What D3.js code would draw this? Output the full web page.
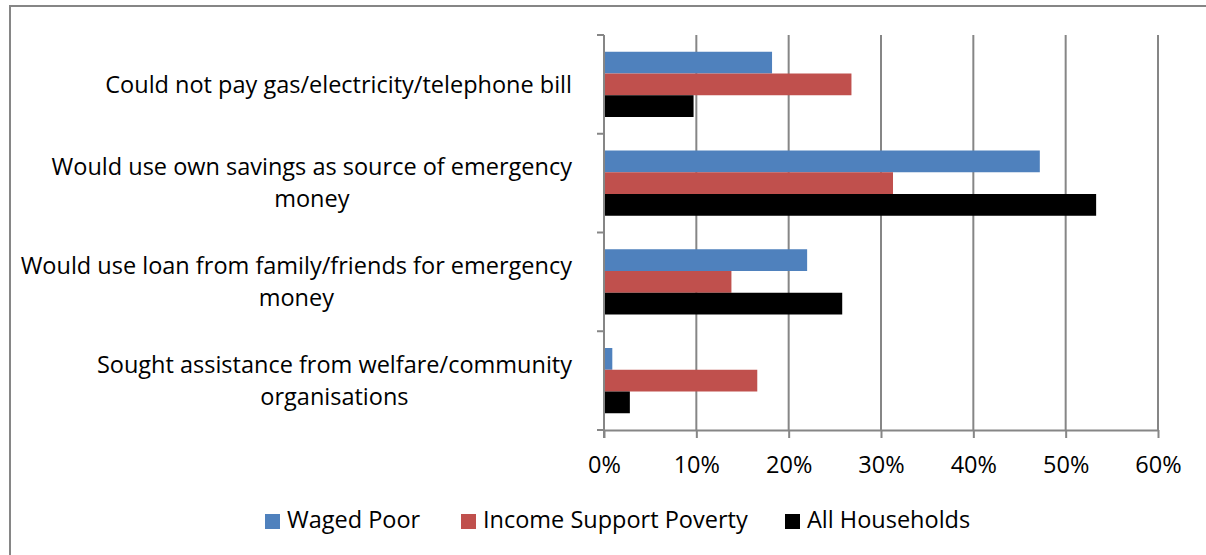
<!DOCTYPE html>
<html>
<head>
<meta charset="utf-8">
<script src="https://d3js.org/d3.v7.min.js"></script>
<style>
body { margin: 0; background: #fff; }
svg text { font-family: "Open Sans", Lato, sans-serif; fill: #000; }
</style>
</head>
<body>
<svg width="1206" height="555"></svg>
<script>
// data
var categories = [
	"Could not pay gas/electricity/telephone bill",
	"Would use own savings as source of emergency money",
	"Would use loan from family/friends for emergency money",
	"Sought assistance from welfare/community organisations"
];
var seriesNames = ["Waged Poor", "Income Support Poverty", "All Households"];
var wagedPoor = [0.182, 0.472, 0.220, 0.009];
var incomeSupport = [0.268, 0.313, 0.138, 0.166];
var allHouseholds = [0.097, 0.533, 0.258, 0.028];
var tickValues = [0, 0.1, 0.2, 0.3, 0.4, 0.5, 0.6];
var colors = ["#4f81bd", "#c0504d", "#000000"];

var series = [wagedPoor, incomeSupport, allHouseholds];
var fontSize = 23.5;

svg = d3.select("svg");
widthSvg = +svg.attr("width");
heightSvg = +svg.attr("height");

// chart border
svg.append("path")
	.attr("d", "M10,556 L10,6 L1206,6")
	.attr("fill", "none")
	.attr("stroke", "#868686")
	.attr("stroke-width", 2);

var plotLeft = 604, plotRight = 1158, plotTop = 35, plotBottom = 430;

x = d3.scaleLinear()
	.domain([0, 0.6])
	.range([plotLeft, plotRight]);

y = d3.scaleBand()
	.domain(categories)
	.range([plotTop, plotBottom]);

inner = d3.scaleBand()
	.domain(d3.range(series.length))
	.range([0, y.bandwidth()])
	.paddingInner(0)
	.paddingOuter(0.77);

// gridlines
gist = svg.append("g").attr("class", "gist");
gist.selectAll("line.grid")
	.data(tickValues.slice(1))
	.enter().append("line")
	.attr("class", "grid")
	.attr("x1", function(d) { return x(d); })
	.attr("x2", function(d) { return x(d); })
	.attr("y1", plotTop)
	.attr("y2", plotBottom)
	.attr("stroke", "#868686")
	.attr("stroke-width", 2);

// bars
categories.forEach(function(cat, i) {
	series.forEach(function(s, j) {
		gist.append("rect")
			.attr("x", x(0))
			.attr("y", y(cat) + inner(j))
			.attr("width", x(s[i]) - x(0))
			.attr("height", inner.bandwidth())
			.attr("fill", colors[j]);
	});
});

// x axis
asisX = svg.append("g")
	.attr("class", "asisX")
	.attr("transform", "translate(" + [0, plotBottom] + ")")
	.call(d3.axisBottom(x)
		.tickValues(tickValues)
		.tickFormat(d3.format(".0%"))
		.tickSize(8)
		.tickSizeOuter(0)
		.tickPadding(18));
asisX.select(".domain").attr("stroke", "#868686").attr("stroke-width", 2);
asisX.selectAll(".tick line").attr("stroke", "#868686").attr("stroke-width", 2);
asisX.selectAll("text").attr("font-size", fontSize).attr("font-family", "'Open Sans', sans-serif");

// y axis
asisY = svg.append("g").attr("class", "asisY");
asisY.append("line")
	.attr("x1", plotLeft).attr("x2", plotLeft)
	.attr("y1", plotTop).attr("y2", plotBottom + 8)
	.attr("stroke", "#868686").attr("stroke-width", 2);
var catEdges = categories.map(function(c) { return y(c); }).concat([plotBottom]);
asisY.selectAll("line.tk")
	.data(catEdges)
	.enter().append("line")
	.attr("class", "tk")
	.attr("x1", plotLeft - 7).attr("x2", plotLeft)
	.attr("y1", function(d) { return d; }).attr("y2", function(d) { return d; })
	.attr("stroke", "#868686").attr("stroke-width", 2);

// category labels, wrapped, lines centered, block right aligned
var maxW = 558, lineH = 32;
categories.forEach(function(cat) {
	var words = cat.split(" ");
	var lines = [];
	var cur = "";
	var probe = svg.append("text").attr("font-size", fontSize);
	words.forEach(function(w) {
		var test = cur ? cur + " " + w : w;
		probe.text(test);
		if (probe.node().getComputedTextLength() > maxW && cur) {
			lines.push(cur);
			cur = w;
		} else {
			cur = test;
		}
	});
	lines.push(cur);
	var widths = lines.map(function(l) { probe.text(l); return probe.node().getComputedTextLength(); });
	probe.remove();
	var blockW = d3.max(widths);
	var cx = 572 - blockW / 2;
	var cy = y(cat) + y.bandwidth() / 2;
	var g = asisY.append("text")
		.attr("font-size", fontSize)
		.attr("text-anchor", "middle");
	lines.forEach(function(l, k) {
		g.append("tspan")
			.attr("x", cx)
			.attr("y", cy + (k - (lines.length - 1) / 2) * lineH)
			.attr("dy", "0.35em")
			.text(l);
	});
});

// legend
var legendX = [265, 461, 785];
legend = svg.append("g").attr("class", "legend");
seriesNames.forEach(function(name, i) {
	legend.append("rect")
		.attr("x", legendX[i]).attr("y", 514)
		.attr("width", 15).attr("height", 15)
		.attr("fill", colors[i]);
	legend.append("text")
		.attr("x", legendX[i] + 22).attr("y", 528)
		.attr("font-size", fontSize)
		.text(name);
});
</script>
</body>
</html>
